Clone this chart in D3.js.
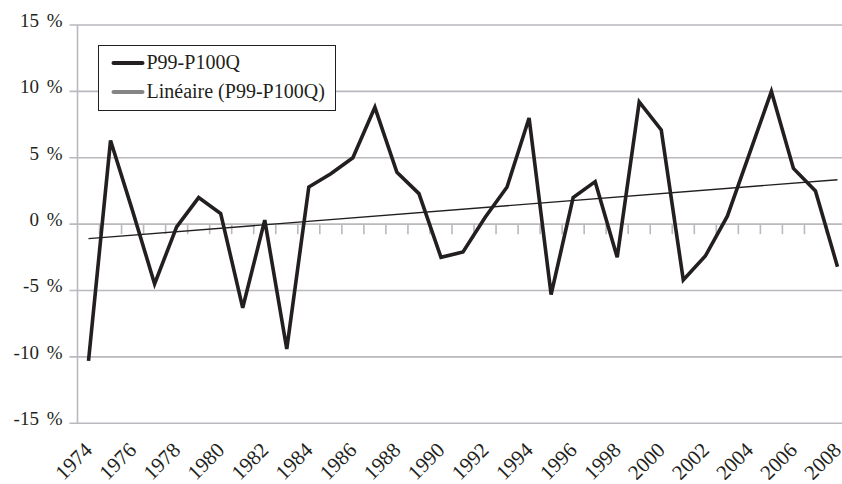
<!DOCTYPE html>
<html>
<head>
<meta charset="utf-8">
<script src="https://cdn.jsdelivr.net/npm/d3@7"></script>
<style>
  body { margin: 0; background: #fff; }
  svg text { font-family: "Liberation Serif", "DejaVu Serif", "Times New Roman", serif; fill: #231f20; }
</style>
</head>
<body>
<div id="chart"></div>
<script>
// yearly values (%)
var years = d3.range(1974, 2009);
var values = [-10.3, 6.3, 1.0, -4.5, -0.2, 2.0, 0.8, -6.3, 0.3, -9.4,
              2.8, 3.8, 5.0, 8.8, 3.9, 2.3, -2.5, -2.1, 0.5, 2.8,
              8.0, -5.3, 2.0, 3.2, -2.5, 9.2, 7.1, -4.2, -2.4, 0.6,
              5.3, 10.0, 4.2, 2.5, -3.2];
var yTicks = [-15, -10, -5, 0, 5, 10, 15];
var seriesName = "P99-P100Q";
var trendName = "Linéaire (P99-P100Q)";

var width = 842, height = 484;
var margin = {top: 25, left: 77.5};
var plot_w = 771, plot_h = 398.3;
var serif = "'Liberation Serif', 'DejaVu Serif', serif";

var svg = d3.select("#chart").append("svg").attr("width", width).attr("height", height);
var g = svg.append("g").attr("transform", "translate(" + margin.left + "," + margin.top + ")");

var x = d3.scaleBand().domain(years).range([0, plot_w]);
var y = d3.scaleLinear().domain([-15, 15]).range([plot_h, 0]);
var cx = function(d) { return x(d) + x.bandwidth() / 2; };

var grid = "#b9b9be";

// horizontal grid lines (stick out a bit to the left like ticks)
g.selectAll(".grid").data(yTicks).enter().append("line")
  .attr("x1", -8).attr("x2", plot_w)
  .attr("y1", function(d) { return y(d); }).attr("y2", function(d) { return y(d); })
  .attr("stroke", grid).attr("stroke-width", 1.6);

// y axis line
g.append("line").attr("x1", 0).attr("x2", 0).attr("y1", 0).attr("y2", plot_h)
  .attr("stroke", grid).attr("stroke-width", 1.6);

// category ticks hanging under the 0 % line
g.selectAll(".xtick").data(years.slice(1)).enter().append("line")
  .attr("x1", function(d) { return x(d); }).attr("x2", function(d) { return x(d); })
  .attr("y1", y(0)).attr("y2", y(0) + 10)
  .attr("stroke", grid).attr("stroke-width", 1.6);

// y labels
g.selectAll(".ylab").data(yTicks).enter().append("text")
  .attr("x", -15).attr("y", function(d) { return y(d); })
  .attr("dy", "0.1em")
  .attr("text-anchor", "end")
  .attr("font-family", serif)
  .attr("font-size", 19)
  .attr("word-spacing", 3)
  .text(function(d) { return d + " %"; });

// x labels, every other year
g.selectAll(".xlab").data(years.filter(function(d) { return d % 2 === 0; })).enter().append("text")
  .attr("transform", function(d) { return "translate(" + (cx(d) + 5) + "," + (plot_h + 28) + ") rotate(-45)"; })
  .attr("text-anchor", "end")
  .attr("font-family", serif)
  .attr("font-size", 21)
  .text(function(d) { return d; });

// linear trend (least squares on the year index)
var n = values.length;
var mx = d3.mean(years), my = d3.mean(values);
var slope = d3.sum(years, function(d, i) { return (d - mx) * (values[i] - my); }) /
            d3.sum(years, function(d) { return (d - mx) * (d - mx); });
var trend = function(yr) { return my + slope * (yr - mx); };

g.append("line")
  .attr("x1", cx(years[0])).attr("y1", y(trend(years[0])))
  .attr("x2", cx(years[n - 1])).attr("y2", y(trend(years[n - 1])))
  .attr("stroke", "#231f20").attr("stroke-width", 1.4);

// main series
var line = d3.line()
  .x(function(d, i) { return cx(years[i]); })
  .y(function(d) { return y(d); });

g.append("path").datum(values)
  .attr("fill", "none").attr("stroke", "#231f20")
  .attr("stroke-width", 3.6).attr("stroke-linejoin", "miter")
  .attr("d", line);

// legend
var lg = svg.append("g").attr("transform", "translate(98.5,45.5)");
lg.append("rect").attr("width", 237).attr("height", 65)
  .attr("fill", "#fff").attr("stroke", "#231f20").attr("stroke-width", 1);
var items = [{name: seriesName, color: "#231f20"}, {name: trendName, color: "#858585"}];
items.forEach(function(it, i) {
  var yy = 17.5 + i * 29;
  lg.append("line").attr("x1", 15).attr("x2", 44).attr("y1", yy).attr("y2", yy)
    .attr("stroke", it.color).attr("stroke-width", 4).attr("stroke-linecap", "round");
  lg.append("text").attr("x", 48).attr("y", yy + 6)
    .attr("font-family", serif).attr("font-size", 20).text(it.name);
});
</script>
</body>
</html>
